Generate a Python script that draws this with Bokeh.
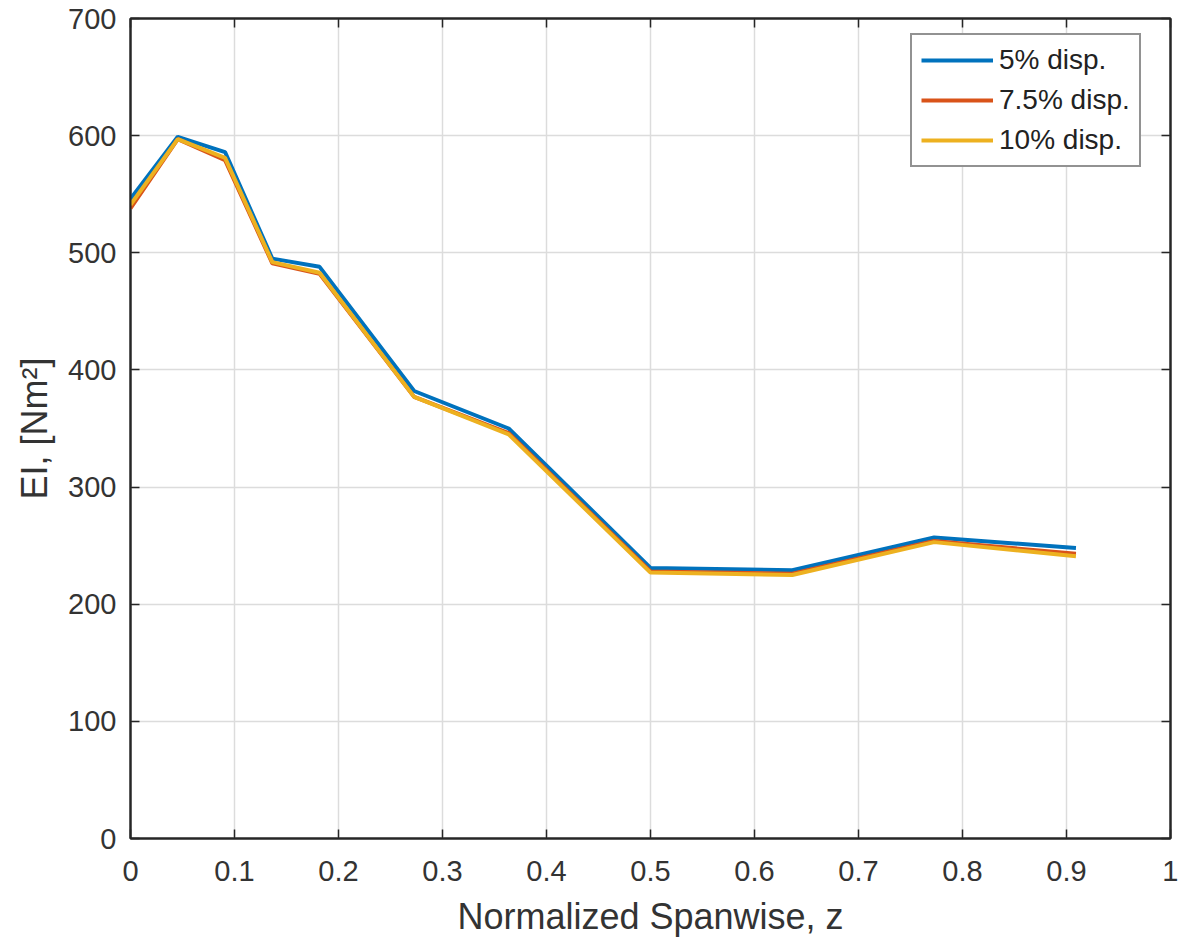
from bokeh.plotting import figure
from bokeh.embed import file_html
from bokeh.resources import INLINE
from bokeh.models import Range1d, FixedTicker, LinearAxis, Legend, LegendItem

# data
z = [0, 1/22, 2/22, 3/22, 4/22, 6/22, 8/22, 11/22, 14/22, 17/22, 20/22]
ei_5 = [546, 599, 586, 495, 488, 382, 350, 231, 229, 257, 248]
ei_75 = [538, 597, 579, 491, 482, 377, 346, 228, 226, 254, 243]
ei_10 = [541, 597, 581, 492, 483, 377, 345, 227, 225, 253, 241]
series_names = ["5% disp.", "7.5% disp.", "10% disp."]
x_ticks = [0, 0.1, 0.2, 0.3, 0.4, 0.5, 0.6, 0.7, 0.8, 0.9, 1.0]
x_tick_labels = ["0", "0.1", "0.2", "0.3", "0.4", "0.5", "0.6", "0.7", "0.8", "0.9", "1"]
y_ticks = [0, 100, 200, 300, 400, 500, 600, 700]

colors = ["#0072BD", "#D95319", "#EDB120"]
FONT = "Liberation Sans"
TXT = "#333333"
AX = "#262626"

p = figure(width=1178, height=945, output_backend="svg", toolbar_location=None,
           x_range=Range1d(0, 1), y_range=Range1d(0, 700),
           min_border_left=130, min_border_right=8, min_border_top=18, min_border_bottom=107)
p.outline_line_color = AX
p.outline_line_width = 2

renderers = []
for ys, c in zip([ei_5, ei_75, ei_10], colors):
    r = p.line(z, ys, line_color=c, line_width=4)
    renderers.append(r)

def style_axis(ax, show_labels=True):
    ax.axis_line_color = AX
    ax.axis_line_width = 2
    ax.major_tick_line_color = AX
    ax.major_tick_line_width = 1.5
    ax.major_tick_in = 9
    ax.major_tick_out = 0
    ax.minor_tick_line_color = None
    ax.major_label_text_font = FONT
    ax.major_label_text_font_size = "29px"
    ax.major_label_text_color = TXT
    ax.axis_label_text_font = FONT
    ax.axis_label_text_font_size = "36px"
    ax.axis_label_text_color = TXT
    ax.axis_label_text_font_style = "normal"
    if not show_labels:
        ax.major_label_text_font_size = "0px"
        ax.major_label_text_color = None

xt = FixedTicker(ticks=x_ticks)
yt = FixedTicker(ticks=y_ticks)

p.xaxis.ticker = xt
p.yaxis.ticker = yt
p.xaxis.major_label_overrides = {t: l for t, l in zip(x_ticks, x_tick_labels)}
p.xaxis.axis_label = "Normalized Spanwise, z"
p.yaxis.axis_label = "EI, [Nm²]"
for ax in p.xaxis:
    style_axis(ax)
    ax.major_label_standoff = 22
    ax.axis_label_standoff = 12
for ax in p.yaxis:
    style_axis(ax)
    ax.major_label_standoff = 14
    ax.axis_label_standoff = 10

top_ax = LinearAxis(ticker=FixedTicker(ticks=x_ticks))
style_axis(top_ax, show_labels=False)
p.add_layout(top_ax, "above")
right_ax = LinearAxis(ticker=FixedTicker(ticks=y_ticks))
style_axis(right_ax, show_labels=False)
p.add_layout(right_ax, "right")

p.xgrid.ticker = xt
p.ygrid.ticker = yt
p.grid.grid_line_color = "#dcdcdc"
p.grid.grid_line_width = 1.5

legend = Legend(items=[LegendItem(label=n, renderers=[r]) for n, r in zip(series_names, renderers)],
                location=(780, 671))
legend.border_line_color = AX
legend.border_line_width = 2
legend.background_fill_color = "white"
legend.background_fill_alpha = 1
legend.label_text_font = FONT
legend.label_text_font_size = "28px"
legend.label_text_color = "#222222"
legend.glyph_width = 72
legend.glyph_height = 32
legend.label_height = 32
legend.label_standoff = 6
legend.spacing = 8
legend.padding = 9
legend.margin = 0
p.add_layout(legend, "center")

open("out.html", "w").write(file_html(p, INLINE))
